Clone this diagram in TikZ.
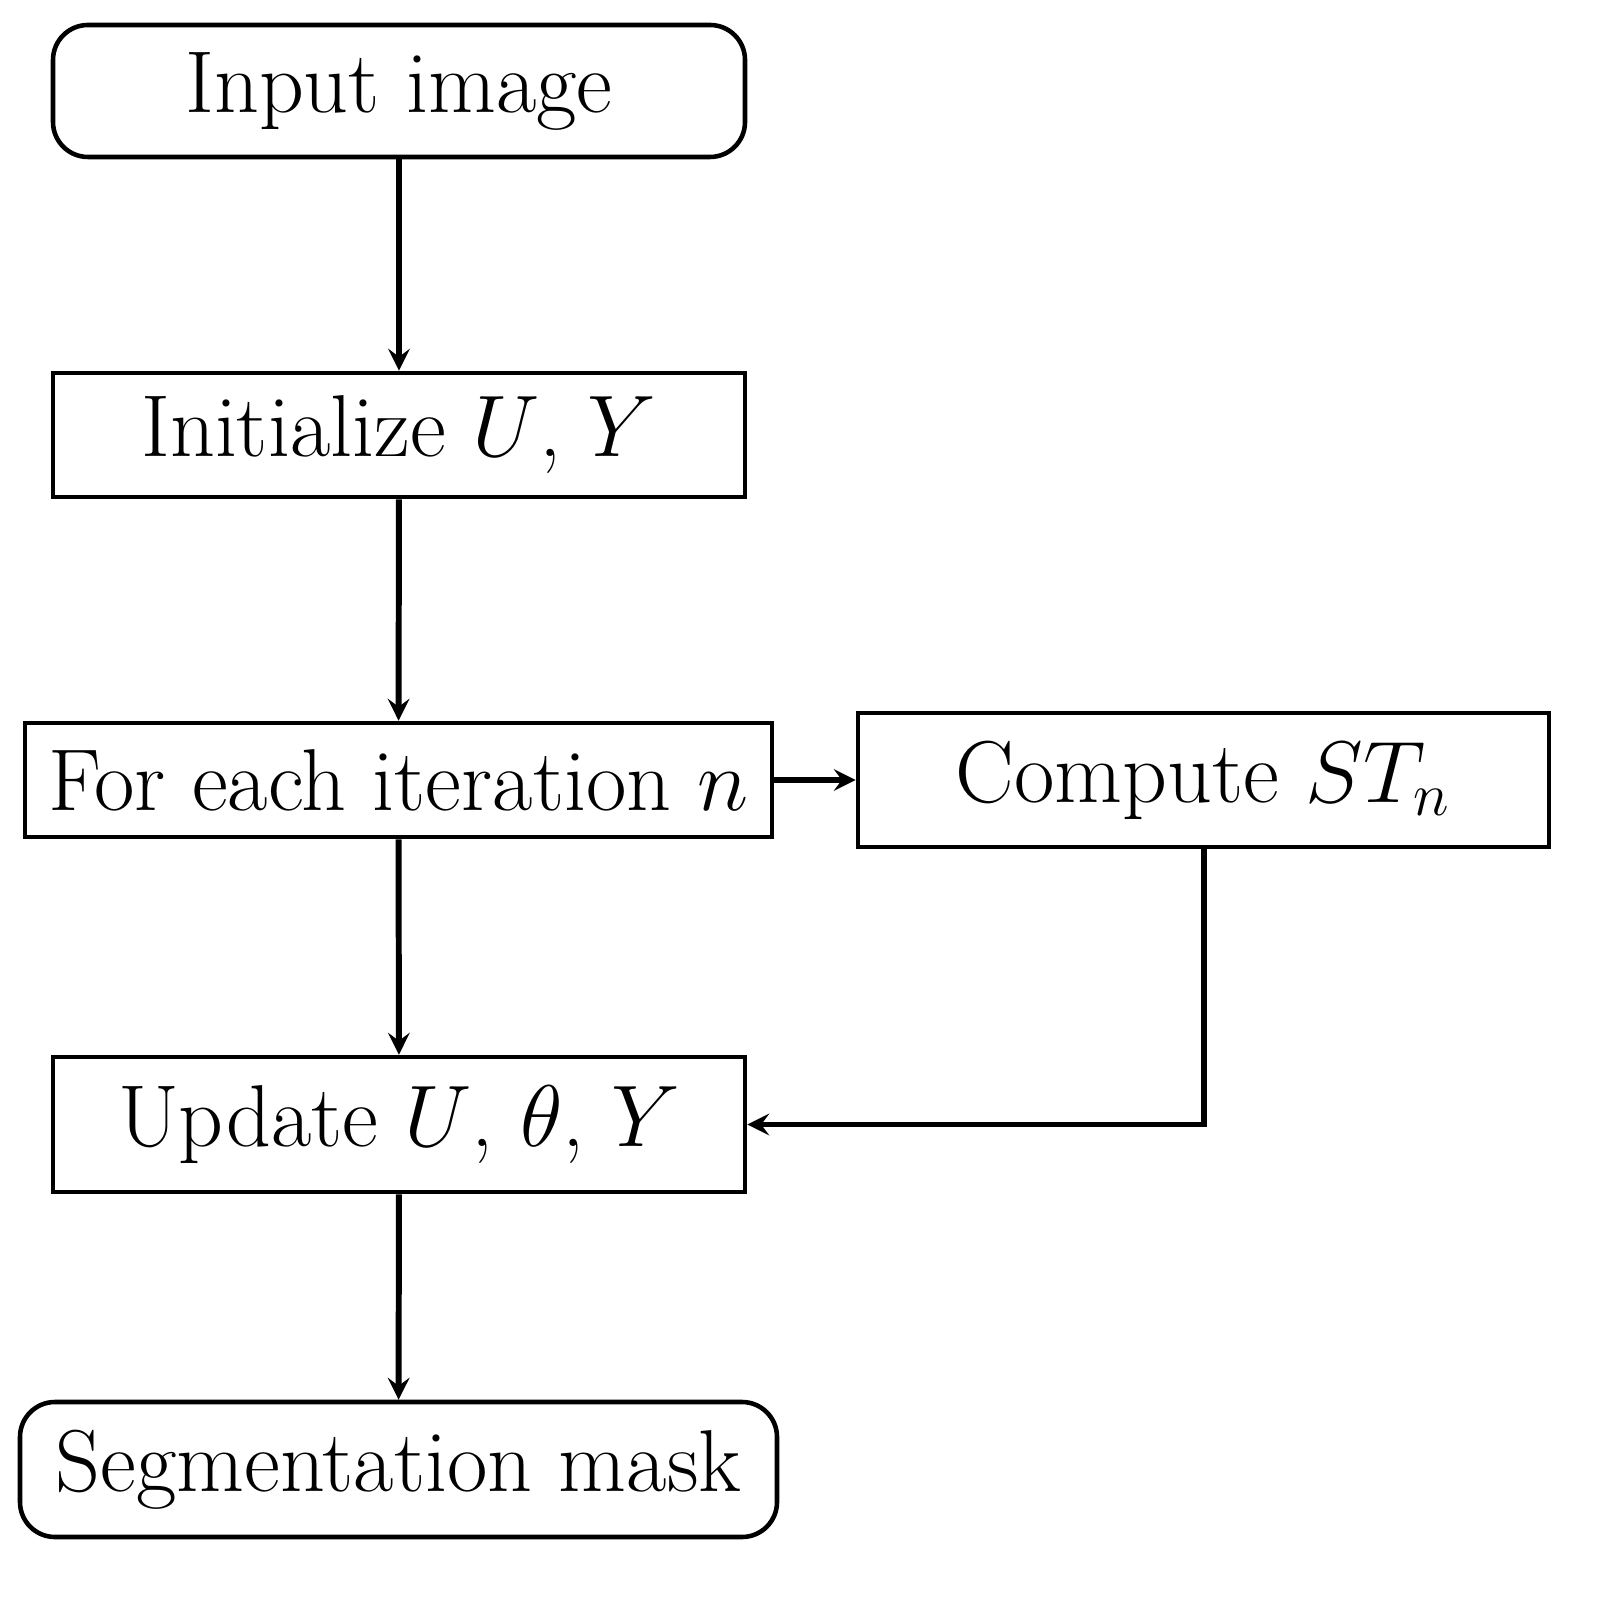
\documentclass[tikz,border=0pt]{standalone}
\usetikzlibrary{arrows,positioning}

\begin{document}
\begin{tikzpicture}[
    box/.style={rectangle, draw=black, line width=1.3pt, inner sep=0pt, text centered, font=\fontsize{25}{30}\selectfont},
    termbox/.style={box, rounded corners=0.35cm},
    arrow/.style={line width=1.7pt,->,>=stealth}
]
\useasboundingbox (0,0) rectangle (16.12,16.05);

% Nodes
\node[termbox, minimum width=6.92cm, minimum height=1.32cm] (input) at (3.99,15.14) {Input image};
\node[box, minimum width=6.92cm, minimum height=1.24cm] (init) at (3.99,11.70) {Initialize $U$, $Y$};
\node[box, minimum width=7.47cm, minimum height=1.14cm] (iter) at (3.985,8.25) {For each iteration $n$};
\node[box, minimum width=6.91cm, minimum height=1.34cm] (compute) at (12.035,8.25) {Compute $ST_n$};
\node[box, minimum width=6.92cm, minimum height=1.35cm] (update) at (3.99,4.805) {Update $U$, $\theta$, $Y$};
\node[termbox, minimum width=7.57cm, minimum height=1.35cm] (mask) at (3.985,1.355) {Segmentation mask};

% Arrows
\draw[arrow] (input) -- (init);
\draw[arrow] (init) -- (iter);
\draw[arrow] (iter) -- (compute);
\draw[arrow] (iter) -- (update);
\draw[arrow] (compute.south) |- (update.east);
\draw[arrow] (update) -- (mask);

\end{tikzpicture}
\end{document}
